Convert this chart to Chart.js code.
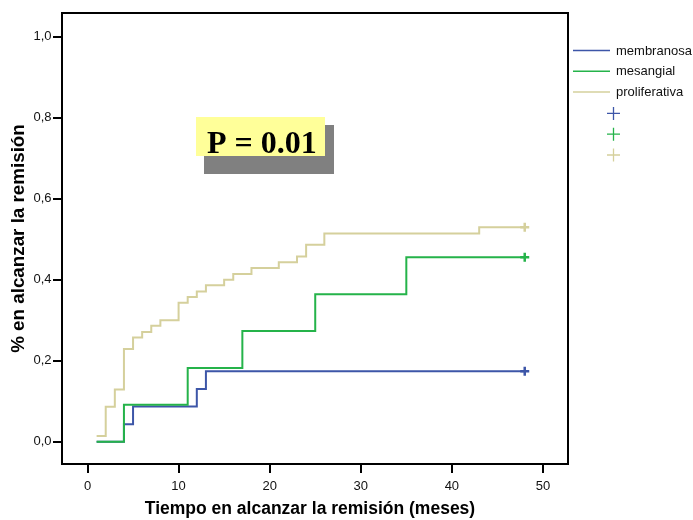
<!DOCTYPE html>
<html>
<head>
<meta charset="utf-8">
<script src="https://cdn.jsdelivr.net/npm/chart.js@4/dist/chart.umd.min.js"></script>
<style>
  html, body { margin: 0; padding: 0; background: #ffffff; }
  canvas { display: block; }
</style>
</head>
<body>
<canvas id="km" width="693" height="520"></canvas>
<script>
// Kaplan-Meier style cumulative curves (1 - S) per histological group
const seriesNames = ['membranosa', 'mesangial', 'proliferativa'];
const seriesColors = ['#3d56a8', '#25b34a', '#d5d09c'];

const membranosaTimes  = [1, 4, 5, 12, 13, 48];
const membranosaValues = [0, 0.043, 0.087, 0.130, 0.174, 0.174];

const mesangialTimes  = [1, 4, 11, 17, 25, 35, 48];
const mesangialValues = [0, 0.091, 0.182, 0.273, 0.364, 0.455, 0.455];

const proliferativaTimes  = [1, 2, 3, 4, 5, 6, 7, 8, 10, 11, 12, 13, 15, 16, 18, 21, 23, 24, 26, 43, 48];
const proliferativaValues = [0.014, 0.086, 0.129, 0.229, 0.257, 0.271, 0.286, 0.300, 0.343, 0.357,
                             0.371, 0.386, 0.400, 0.414, 0.429, 0.443, 0.457, 0.486, 0.514, 0.529, 0.529];

// censored observations (time) for each group
const membranosaCensored    = [48];
const mesangialCensored     = [48];
const proliferativaCensored = [48];

const xTicks = [0, 10, 20, 30, 40, 50];
const xTickLabels = ['0', '10', '20', '30', '40', '50'];
const yTicks = [0, 0.2, 0.4, 0.6, 0.8, 1.0];
const yTickLabels = ['0,0', '0,2', '0,4', '0,6', '0,8', '1,0'];

const xTitle = 'Tiempo en alcanzar la remisión (meses)';
const yTitle = '% en alcanzar la remisión';
const pLabel = 'P = 0.01';

const FONT = '"Liberation Sans", Arial, Helvetica, sans-serif';

function toPoints(times, values) {
  return times.map((t, i) => ({ x: t, y: values[i] }));
}
function valueAt(times, values, t) {
  let v = values[0];
  for (let i = 0; i < times.length; i++) if (times[i] <= t) v = values[i];
  return v;
}
function censorPoints(cens, times, values) {
  return cens.map(t => ({ x: t, y: valueAt(times, values, t) }));
}

const groups = [
  { times: membranosaTimes, values: membranosaValues, cens: membranosaCensored },
  { times: mesangialTimes, values: mesangialValues, cens: mesangialCensored },
  { times: proliferativaTimes, values: proliferativaValues, cens: proliferativaCensored }
];
const drawOrder = [3, 2, 1];

const datasets = [];
groups.forEach((g, i) => {
  datasets.push({
    type: 'line',
    label: seriesNames[i],
    data: toPoints(g.times, g.values),
    borderColor: seriesColors[i],
    borderWidth: 2,
    stepped: 'before',
    pointRadius: 0,
    fill: false,
    order: drawOrder[i]
  });
});
groups.forEach((g, i) => {
  datasets.push({
    type: 'scatter',
    label: seriesNames[i] + ' censurado',
    data: censorPoints(g.cens, g.times, g.values),
    pointStyle: 'cross',
    pointRadius: 4.5,
    pointBorderWidth: 2.5,
    borderColor: seriesColors[i],
    backgroundColor: seriesColors[i],
    order: 0
  });
});

// frame, axis title, legend and p-value annotation
const decorations = {
  id: 'decorations',
  afterDraw(chart) {
    const { ctx, chartArea: a } = chart;
    ctx.save();

    // plot frame
    ctx.strokeStyle = '#000';
    ctx.lineWidth = 2;
    ctx.strokeRect(a.left, a.top, a.right - a.left, a.bottom - a.top);

    // x axis title
    ctx.fillStyle = '#000';
    ctx.font = 'bold 17.5px ' + FONT;
    ctx.textAlign = 'center';
    ctx.textBaseline = 'alphabetic';
    ctx.fillText(xTitle, (a.left + a.right) / 2 - 5, a.bottom + 50);

    // legend: line samples
    const lx = a.right + 5, ly = 50.5, step = 20.8;
    ctx.font = '13px ' + FONT;
    ctx.textBaseline = 'middle';
    ctx.textAlign = 'left';
    seriesNames.forEach((name, i) => {
      const y = ly + i * step;
      ctx.strokeStyle = seriesColors[i];
      ctx.lineWidth = 1.5;
      ctx.beginPath();
      ctx.moveTo(lx, y);
      ctx.lineTo(lx + 37, y);
      ctx.stroke();
      ctx.fillStyle = '#111';
      ctx.fillText(name, lx + 43, y + 0.5);
    });
    // legend: censor markers
    seriesNames.forEach((name, i) => {
      const y = ly + (i + 3) * step + 0.5;
      const cx = lx + 40.5;
      ctx.strokeStyle = seriesColors[i];
      ctx.lineWidth = 1.3;
      ctx.beginPath();
      ctx.moveTo(cx - 6.5, y); ctx.lineTo(cx + 6.5, y);
      ctx.moveTo(cx, y - 6.5); ctx.lineTo(cx, y + 6.5);
      ctx.stroke();
    });

    // p-value box with drop shadow
    const bx = a.left + 134, by = a.top + 104, bw = 129, bh = 39;
    ctx.fillStyle = '#808080';
    ctx.fillRect(bx + 8, by + 8, bw + 1, bh + 10);
    ctx.fillStyle = '#ffff99';
    ctx.fillRect(bx, by, bw, bh);
    ctx.fillStyle = '#000';
    ctx.font = 'bold 32px "Liberation Serif", "Times New Roman", serif';
    ctx.textAlign = 'left';
    ctx.textBaseline = 'alphabetic';
    ctx.fillText(pLabel, bx + 11, by + 36);

    ctx.restore();
  }
};

new Chart(document.getElementById('km'), {
  type: 'line',
  data: { datasets },
  options: {
    responsive: false,
    animation: false,
    layout: { padding: { top: 13, right: 125, left: 0, bottom: 0 } },
    plugins: {
      legend: { display: false },
      tooltip: { enabled: false }
    },
    scales: {
      x: {
        type: 'linear',
        min: -2.8,
        max: 52.75,
        afterBuildTicks(scale) { scale.ticks = xTicks.map(v => ({ value: v })); },
        afterFit(scale) { scale.height = 56; },
        ticks: {
          callback: (v, i) => xTickLabels[i],
          color: '#111',
          font: { family: FONT, size: 13 },
          padding: 6,
          maxRotation: 0,
          autoSkip: false
        },
        grid: { drawOnChartArea: false, drawTicks: true, tickLength: 9, color: '#000', lineWidth: 2 },
        border: { display: false }
      },
      y: {
        type: 'linear',
        min: -0.055,
        max: 1.058,
        afterBuildTicks(scale) { scale.ticks = yTicks.map(v => ({ value: v })); },
        afterFit(scale) { scale.width = 62; },
        ticks: {
          callback: (v, i) => yTickLabels[i],
          color: '#111',
          font: { family: FONT, size: 13 },
          padding: 1.5,
          autoSkip: false
        },
        grid: { drawOnChartArea: false, drawTicks: true, tickLength: 9, color: '#000', lineWidth: 2 },
        border: { display: false },
        title: {
          display: true,
          text: yTitle,
          color: '#000',
          font: { family: FONT, size: 18.8, weight: 'bold' },
          padding: { top: 8, bottom: 0 }
        }
      }
    }
  },
  plugins: [decorations]
});
</script>
</body>
</html>
